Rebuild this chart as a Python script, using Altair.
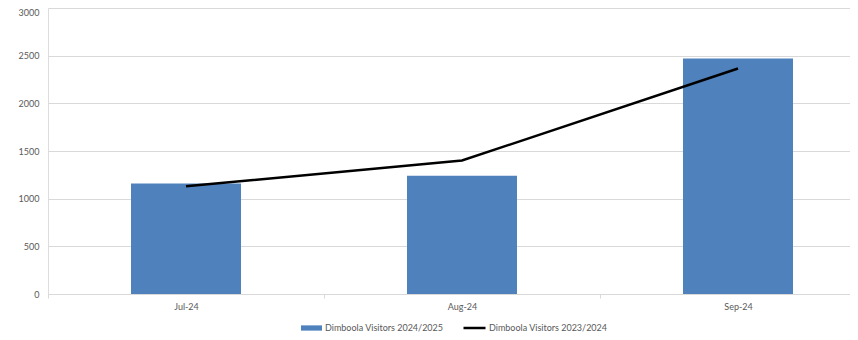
import altair as alt
import pandas as pd

months = ["Jul-24", "Aug-24", "Sep-24"]
visitors_2024_25 = [1160, 1240, 2470]
visitors_2023_24 = [1130, 1400, 2365]
series_bar = "Dimboola Visitors 2024/2025"
series_line = "Dimboola Visitors 2023/2024"
y_ticks = [0, 500, 1000, 1500, 2000, 2500, 3000]

bars_df = pd.DataFrame({"month": months, "value": visitors_2024_25, "series": series_bar})
line_df = pd.DataFrame({"month": months, "value": visitors_2023_24, "series": series_line})

FONT = "Lato"
GREY = "#595959"
GRID = "#d9d9d9"
FS = 9

x_enc = alt.X(
    "month:N",
    sort=months,
    title=None,
    scale=alt.Scale(range=[0, 828], paddingInner=0, paddingOuter=0),
    axis=alt.Axis(
        labelAngle=0,
        domainColor=GRID,
        domainWidth=1,
        tickColor=GRID,
        tickSize=4,
        tickBand="extent",
        labelPadding=4,
        labelColor=GREY,
        labelFont=FONT,
        labelFontSize=FS,
        grid=False,
    ),
)

y_enc = alt.Y(
    "value:Q",
    title=None,
    scale=alt.Scale(domain=[0, 3000], nice=False),
    axis=alt.Axis(
        values=y_ticks,
        format="d",
        grid=True,
        gridColor=GRID,
        gridWidth=1,
        domain=False,
        ticks=False,
        labelPadding=9,
        labelColor=GREY,
        labelFont=FONT,
        labelFontSize=FS,
        labelBaseline={
            "condition": {"test": "datum.value == 3000", "value": "top"},
            "value": "middle",
        },
    ),
)

bars = alt.Chart(bars_df).mark_bar(size=110).encode(
    x=x_enc,
    y=y_enc,
    color=alt.Color(
        "series:N",
        scale=alt.Scale(domain=[series_bar], range=["#4F81BD"]),
        legend=alt.Legend(
            title=None,
            orient="none",
            legendX=253,
            legendY=309.5,
            symbolType="M-1,-0.25H1V0.25H-1Z",
            symbolSize=441,
            symbolStrokeWidth=0,
            labelOffset=3,
            labelColor=GREY,
            labelFont=FONT,
            labelFontSize=FS,
            padding=0,
        ),
    ),
)

line = alt.Chart(line_df).mark_line(strokeWidth=2.5).encode(
    x=alt.X("month:N", sort=months),
    y=alt.Y("value:Q"),
    stroke=alt.Stroke(
        "series:N",
        scale=alt.Scale(domain=[series_line], range=["#000000"]),
        legend=alt.Legend(
            title=None,
            orient="none",
            legendX=414,
            legendY=307.5,
            symbolType="stroke",
            symbolSize=484,
            symbolStrokeWidth=2.5,
            labelOffset=2,
            labelColor=GREY,
            labelFont=FONT,
            labelFontSize=FS,
            padding=0,
        ),
    ),
)

chart = (
    alt.layer(bars, line)
    .resolve_scale(color="independent", stroke="independent")
    .properties(
        width=802,
        height=286,
        padding={"left": 40, "top": 0, "right": 0, "bottom": 38},
        autosize=alt.AutoSizeParams(type="none"),
    )
    .configure_view(stroke=None)
    .configure(background="white")
)

chart.save("out.html", embed_options={"renderer": "svg", "actions": False})
